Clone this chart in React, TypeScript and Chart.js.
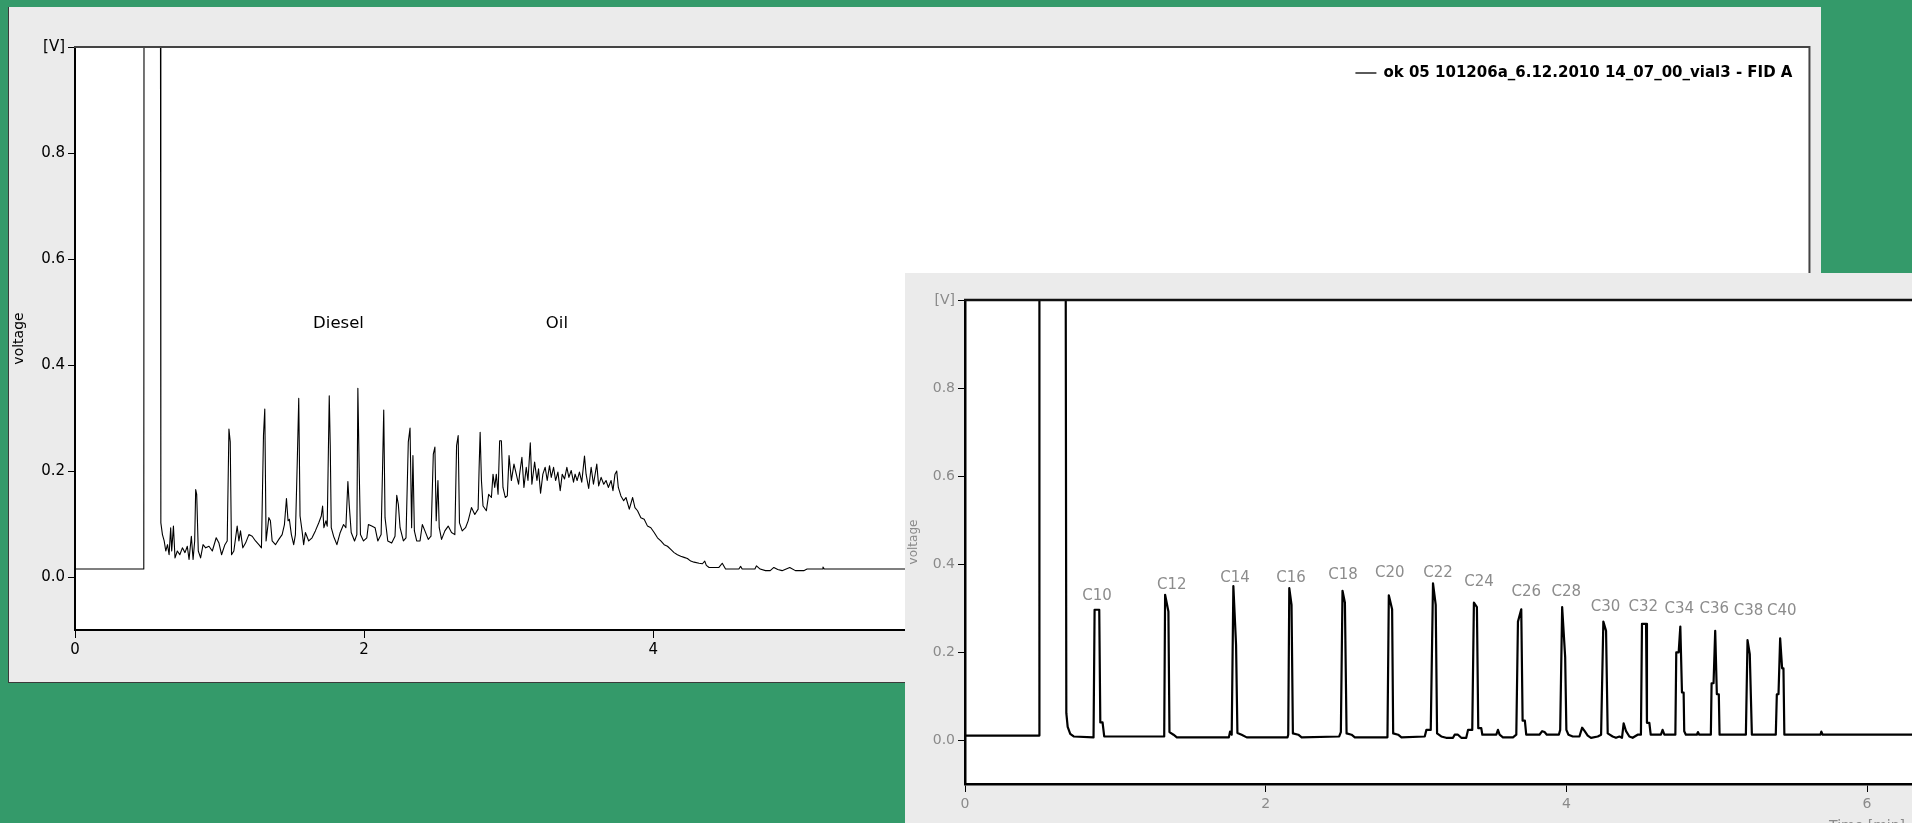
import React, { useEffect, useRef } from 'react';
import { Chart, registerables } from 'chart.js';

Chart.register(...registerables);

const FONT = '"DejaVu Sans", "Liberation Sans", sans-serif';

// ---------- Panel 1: sample chromatogram (Diesel + Oil) ----------
const sampleTime: number[] = [
  0, 0.476, 0.478, 0.59, 0.594, 0.605, 0.617, 0.628, 0.64, 0.651, 0.662, 0.669, 0.681, 0.692, 0.708,
  0.725, 0.743, 0.761, 0.777, 0.789, 0.805, 0.817, 0.828, 0.835, 0.842, 0.853, 0.869, 0.886, 0.904,
  0.927, 0.95, 0.977, 0.996, 1.014, 1.037, 1.053, 1.065, 1.074, 1.083, 1.099, 1.122, 1.134, 1.145,
  1.161, 1.18, 1.203, 1.226, 1.249, 1.272, 1.29, 1.304, 1.313, 1.322, 1.341, 1.352, 1.364, 1.387,
  1.41, 1.433, 1.449, 1.463, 1.474, 1.483, 1.497, 1.513, 1.525, 1.538, 1.548, 1.557, 1.571, 1.582,
  1.594, 1.617, 1.64, 1.663, 1.686, 1.704, 1.713, 1.722, 1.736, 1.745, 1.759, 1.766, 1.773, 1.789,
  1.812, 1.835, 1.858, 1.874, 1.888, 1.897, 1.911, 1.934, 1.95, 1.957, 1.966, 1.975, 1.996, 2.019,
  2.03, 2.053, 2.076, 2.095, 2.118, 2.129, 2.136, 2.145, 2.164, 2.191, 2.214, 2.226, 2.237, 2.249,
  2.272, 2.29, 2.306, 2.318, 2.329, 2.338, 2.348, 2.364, 2.387, 2.403, 2.421, 2.444, 2.463, 2.479,
  2.49, 2.499, 2.511, 2.52, 2.536, 2.559, 2.582, 2.605, 2.628, 2.64, 2.651, 2.66, 2.679, 2.702,
  2.72, 2.743, 2.766, 2.789, 2.796, 2.803, 2.812, 2.823, 2.846, 2.862, 2.881, 2.892, 2.904, 2.915,
  2.927, 2.938, 2.95, 2.961, 2.977, 2.991, 3.003, 3.019, 3.037, 3.053, 3.069, 3.076, 3.092, 3.106,
  3.122, 3.134, 3.15, 3.161, 3.18, 3.196, 3.207, 3.221, 3.237, 3.253, 3.267, 3.283, 3.295, 3.311,
  3.325, 3.341, 3.357, 3.371, 3.387, 3.403, 3.417, 3.433, 3.449, 3.46, 3.474, 3.49, 3.506, 3.525,
  3.536, 3.554, 3.571, 3.587, 3.61, 3.623, 3.64, 3.658, 3.674, 3.69, 3.709, 3.722, 3.736, 3.748,
  3.759, 3.777, 3.796, 3.812, 3.835, 3.858, 3.874, 3.892, 3.915, 3.938, 3.961, 3.984, 4.007, 4.03,
  4.053, 4.076, 4.099, 4.122, 4.145, 4.168, 4.191, 4.214, 4.237, 4.26, 4.283, 4.318, 4.341, 4.357,
  4.368, 4.387, 4.455, 4.478, 4.501, 4.593, 4.605, 4.616, 4.704, 4.715, 4.74, 4.777, 4.81, 4.835,
  4.862, 4.892, 4.945, 4.984, 5.042, 5.065, 5.172, 5.175, 5.184, 12,
];
const sampleSignal: number[] = [
  0.015, 0.015, 1.5, 1.5, 0.102, 0.08, 0.068, 0.049, 0.061, 0.042, 0.093, 0.049, 0.096, 0.036, 0.049,
  0.042, 0.055, 0.046, 0.058, 0.033, 0.077, 0.033, 0.068, 0.165, 0.156, 0.049, 0.036, 0.061, 0.055,
  0.058, 0.049, 0.074, 0.064, 0.042, 0.061, 0.068, 0.279, 0.255, 0.042, 0.049, 0.096, 0.068, 0.087,
  0.055, 0.064, 0.08, 0.077, 0.068, 0.061, 0.055, 0.267, 0.317, 0.068, 0.112, 0.106, 0.068, 0.061,
  0.071, 0.08, 0.099, 0.148, 0.106, 0.109, 0.08, 0.061, 0.08, 0.22, 0.337, 0.115, 0.087, 0.061,
  0.084, 0.068, 0.074, 0.087, 0.102, 0.115, 0.134, 0.093, 0.106, 0.096, 0.342, 0.248, 0.093, 0.077,
  0.061, 0.084, 0.099, 0.093, 0.18, 0.137, 0.084, 0.068, 0.08, 0.356, 0.207, 0.08, 0.068, 0.074,
  0.099, 0.096, 0.093, 0.068, 0.08, 0.22, 0.315, 0.112, 0.068, 0.064, 0.077, 0.154, 0.137, 0.093,
  0.068, 0.074, 0.255, 0.281, 0.093, 0.229, 0.087, 0.068, 0.068, 0.099, 0.087, 0.071, 0.077, 0.232,
  0.245, 0.106, 0.182, 0.093, 0.071, 0.087, 0.096, 0.084, 0.08, 0.248, 0.267, 0.102, 0.087, 0.093,
  0.106, 0.131, 0.118, 0.128, 0.207, 0.273, 0.182, 0.134, 0.125, 0.156, 0.15, 0.194, 0.169, 0.194,
  0.156, 0.257, 0.257, 0.169, 0.15, 0.153, 0.229, 0.182, 0.213, 0.194, 0.175, 0.194, 0.226, 0.169,
  0.207, 0.182, 0.253, 0.175, 0.217, 0.182, 0.204, 0.158, 0.194, 0.207, 0.182, 0.21, 0.188, 0.207,
  0.182, 0.198, 0.163, 0.194, 0.185, 0.207, 0.188, 0.201, 0.179, 0.194, 0.182, 0.198, 0.179, 0.228,
  0.194, 0.167, 0.207, 0.175, 0.213, 0.172, 0.188, 0.175, 0.182, 0.169, 0.182, 0.163, 0.194, 0.2,
  0.169, 0.153, 0.144, 0.15, 0.128, 0.15, 0.131, 0.125, 0.112, 0.109, 0.096, 0.093, 0.084, 0.074,
  0.068, 0.061, 0.058, 0.052, 0.046, 0.042, 0.039, 0.037, 0.035, 0.03, 0.028, 0.026, 0.025, 0.03,
  0.022, 0.018, 0.018, 0.026, 0.015, 0.015, 0.02, 0.015, 0.015, 0.021, 0.015, 0.012, 0.012, 0.018,
  0.014, 0.012, 0.018, 0.012, 0.012, 0.015, 0.015, 0.019, 0.015, 0.015,
];
const fractionNames: string[] = ['Diesel', 'Oil'];
const fractionLabelTime: number[] = [1.823, 3.334];
const fractionLabelSignal: number[] = [0.477, 0.477];
const legendLabel = 'ok 05 101206a_6.12.2010 14_07_00_vial3 - FID A';

// ---------- Panel 2: n-alkane standard C10–C40 ----------
const standardTime: number[] = [
  0, 0.493, 0.495, 0.668, 0.674, 0.683, 0.7, 0.723, 0.855, 0.862, 0.893, 0.9, 0.915, 0.926,
  1.325, 1.331, 1.353, 1.36, 1.387, 1.409, 1.755, 1.763, 1.774, 1.785, 1.803, 1.812, 1.84, 1.874,
  2.145, 2.15, 2.157, 2.172, 2.181, 2.217, 2.239, 2.489, 2.5, 2.511, 2.527, 2.538, 2.571, 2.593,
  2.81, 2.819, 2.841, 2.848, 2.881, 2.903, 3.058, 3.069, 3.098, 3.113, 3.131, 3.14, 3.168, 3.2,
  3.246, 3.257, 3.279, 3.301, 3.334, 3.346, 3.374, 3.385, 3.405, 3.414, 3.434, 3.441, 3.534, 3.545,
  3.556, 3.578, 3.645, 3.667, 3.678, 3.7, 3.709, 3.724, 3.733, 3.821, 3.839, 3.855, 3.87, 3.95,
  3.959, 3.972, 3.992, 4.0, 4.014, 4.043, 4.087, 4.105, 4.122, 4.142, 4.164, 4.209, 4.231, 4.246,
  4.264, 4.275, 4.308, 4.33, 4.353, 4.37, 4.381, 4.397, 4.419, 4.441, 4.474, 4.496, 4.503, 4.53,
  4.536, 4.552, 4.561, 4.629, 4.64, 4.652, 4.725, 4.731, 4.747, 4.758, 4.769, 4.78, 4.784, 4.795,
  4.868, 4.875, 4.884, 4.961, 4.966, 4.979, 4.99, 5.001, 5.014, 5.019, 5.194, 5.205, 5.22, 5.234,
  5.393, 5.4, 5.411, 5.422, 5.435, 5.444, 5.45, 5.69, 5.696, 5.705, 12,
];
const standardSignal: number[] = [
  0.01, 0.01, 1.5, 1.5, 0.061, 0.03, 0.014, 0.008, 0.006, 0.296, 0.296, 0.04, 0.04, 0.008,
  0.008, 0.33, 0.292, 0.018, 0.012, 0.006, 0.006, 0.019, 0.012, 0.35, 0.216, 0.016, 0.012, 0.006,
  0.006, 0.012, 0.345, 0.307, 0.015, 0.012, 0.006, 0.008, 0.018, 0.339, 0.312, 0.015, 0.012, 0.006,
  0.006, 0.329, 0.297, 0.015, 0.012, 0.006, 0.008, 0.023, 0.023, 0.356, 0.307, 0.015, 0.008, 0.005,
  0.005, 0.012, 0.012, 0.005, 0.005, 0.023, 0.023, 0.312, 0.302, 0.027, 0.027, 0.012, 0.012, 0.023,
  0.012, 0.006, 0.006, 0.012, 0.269, 0.297, 0.044, 0.044, 0.012, 0.012, 0.02, 0.018, 0.012, 0.012,
  0.023, 0.302, 0.189, 0.023, 0.012, 0.008, 0.008, 0.028, 0.02, 0.01, 0.005, 0.008, 0.012, 0.269,
  0.248, 0.015, 0.008, 0.005, 0.008, 0.005, 0.038, 0.02, 0.008, 0.005, 0.012, 0.012, 0.264, 0.264,
  0.039, 0.039, 0.012, 0.012, 0.023, 0.012, 0.012, 0.199, 0.199, 0.258, 0.108, 0.108, 0.02, 0.012,
  0.012, 0.018, 0.012, 0.012, 0.129, 0.129, 0.248, 0.104, 0.104, 0.012, 0.012, 0.227, 0.195, 0.012,
  0.012, 0.104, 0.104, 0.231, 0.163, 0.163, 0.012, 0.012, 0.019, 0.012, 0.012,
];
const alkaneNames: string[] = [
  'C10', 'C12', 'C14', 'C16', 'C18', 'C20', 'C22', 'C24', 'C26', 'C28', 'C30', 'C32', 'C34', 'C36', 'C38', 'C40',
];
const alkaneLabelTime: number[] = [
  0.878, 1.375, 1.796, 2.168, 2.515, 2.825, 3.146, 3.419, 3.733, 3.999, 4.26, 4.512, 4.751, 4.984, 5.212, 5.433,
];
const alkaneLabelSignal: number[] = [
  0.326, 0.352, 0.367, 0.367, 0.375, 0.379, 0.379, 0.358, 0.337, 0.335, 0.303, 0.303, 0.298, 0.298, 0.294, 0.294,
];

// ---------- shared axes ----------
const timeTicks: number[] = [0, 2, 4, 6, 8, 10, 12];
const voltTicks: number[] = [0, 0.2, 0.4, 0.6, 0.8, 1.0];

type PanelOpts = {
  times: number[];
  signal: number[];
  lineWidth: number;
  padTop: number;
  padRight: number;
  yWidth: number;
  xHeight: number;
  tickSize: number;
  tickColor: string;
  yTitleSize: number;
  yTitlePad: number;
  showXTitle: boolean;
  xTitlePad: { top: number; bottom: number };
  titleColor: string;
  yTickPad: number;
  xTickPad: number;
  frameColor: string;
  frameWidth: number;
  axisWidth: number;
  extraPlugins: any[];
};

function frameAndBackground(color: string, width: number) {
  return {
    id: 'frameAndBackground',
    beforeDraw(chart: any) {
      const { ctx, chartArea: a } = chart;
      ctx.save();
      ctx.fillStyle = '#ffffff';
      ctx.fillRect(a.left, a.top, a.right - a.left, a.bottom - a.top);
      ctx.restore();
    },
    afterDraw(chart: any) {
      const { ctx, chartArea: a } = chart;
      ctx.save();
      ctx.strokeStyle = color;
      ctx.lineWidth = width;
      ctx.beginPath();
      ctx.moveTo(a.left - 1, a.top);
      ctx.lineTo(a.right, a.top);
      ctx.lineTo(a.right, a.bottom);
      ctx.stroke();
      ctx.restore();
    },
  };
}

function textLabels(id: string, names: string[], times: number[], sig: number[], font: string, color: string) {
  return {
    id,
    afterDatasetsDraw(chart: any) {
      const { ctx, scales } = chart;
      ctx.save();
      ctx.font = font;
      ctx.fillStyle = color;
      ctx.textAlign = 'center';
      ctx.textBaseline = 'middle';
      names.forEach((n, i) => {
        ctx.fillText(n, scales.x.getPixelForValue(times[i]), scales.y.getPixelForValue(sig[i]));
      });
      ctx.restore();
    },
  };
}

const legendPlugin = {
  id: 'insideLegend',
  afterDraw(chart: any) {
    const { ctx, chartArea: a } = chart;
    ctx.save();
    ctx.font = `bold 15px ${FONT}`;
    ctx.textAlign = 'right';
    ctx.textBaseline = 'middle';
    const right = a.right - 17;
    const y = a.top + 26;
    const w = ctx.measureText(legendLabel).width;
    ctx.fillStyle = '#000';
    ctx.fillText(legendLabel, right, y);
    ctx.strokeStyle = '#000';
    ctx.lineWidth = 1.3;
    ctx.beginPath();
    ctx.moveTo(right - w - 28, y);
    ctx.lineTo(right - w - 7, y);
    ctx.stroke();
    ctx.restore();
  },
};

function buildConfig(o: PanelOpts): any {
  return {
    type: 'line',
    data: {
      datasets: [
        {
          label: legendLabel,
          data: o.times.map((t, i) => ({ x: t, y: o.signal[i] })),
          borderColor: '#000',
          borderWidth: o.lineWidth,
          pointRadius: 0,
          tension: 0,
          fill: false,
          borderJoinStyle: 'round',
        },
      ],
    },
    options: {
      responsive: false,
      animation: false,
      events: [],
      devicePixelRatio: 1,
      layout: { padding: { top: o.padTop, right: o.padRight, left: 0, bottom: 0 } },
      plugins: { legend: { display: false }, tooltip: { enabled: false }, title: { display: false } },
      scales: {
        x: {
          type: 'linear',
          min: 0,
          max: 12,
          afterBuildTicks: (s: any) => {
            s.ticks = timeTicks.map((v) => ({ value: v }));
          },
          afterFit: (s: any) => {
            s.height = o.xHeight;
          },
          ticks: {
            autoSkip: false,
            maxRotation: 0,
            padding: o.xTickPad,
            color: o.tickColor,
            font: { family: FONT, size: o.tickSize },
            callback: (v: any) => String(v),
          },
          grid: { drawOnChartArea: false, drawTicks: true, tickLength: 8, color: '#000', tickWidth: 1 },
          border: { display: true, color: '#000', width: o.axisWidth },
          title: {
            display: o.showXTitle,
            text: 'Time [min]',
            color: o.titleColor,
            font: { family: FONT, size: 14 },
            padding: o.xTitlePad,
          },
        },
        y: {
          type: 'linear',
          min: -0.1,
          max: 1.0,
          afterBuildTicks: (s: any) => {
            s.ticks = voltTicks.map((v) => ({ value: v }));
          },
          afterFit: (s: any) => {
            s.width = o.yWidth;
          },
          ticks: {
            autoSkip: false,
            padding: o.yTickPad,
            color: o.tickColor,
            font: { family: FONT, size: o.tickSize },
            callback: (v: any) => (Math.abs(v - 1) < 1e-9 ? '[V]' : Number(v).toFixed(1)),
          },
          grid: { drawOnChartArea: false, drawTicks: true, tickLength: 7, color: '#000', tickWidth: 1 },
          border: { display: true, color: '#000', width: o.axisWidth },
          title: {
            display: true,
            text: 'voltage',
            color: o.titleColor,
            font: { family: FONT, size: o.yTitleSize },
            padding: { top: o.yTitlePad, bottom: 0 },
          },
        },
      },
    },
    plugins: [frameAndBackground(o.frameColor, o.frameWidth), ...o.extraPlugins],
  };
}

function ChartPanel(props: {
  boxStyle: React.CSSProperties;
  canvasW: number;
  canvasH: number;
  canvasStyle?: React.CSSProperties;
  opts: PanelOpts;
}) {
  const ref = useRef<HTMLCanvasElement | null>(null);
  useEffect(() => {
    if (!ref.current) return;
    const chart = new Chart(ref.current, buildConfig(props.opts));
    return () => chart.destroy();
  }, []);
  return (
    <div style={props.boxStyle}>
      <canvas
        ref={ref}
        width={props.canvasW}
        height={props.canvasH}
        style={{ display: 'block', width: props.canvasW, height: props.canvasH, ...(props.canvasStyle || {}) }}
      />
    </div>
  );
}

const panel1Opts: PanelOpts = {
  times: sampleTime,
  signal: sampleSignal,
  lineWidth: 1.1,
  padTop: 40,
  padRight: 10,
  yWidth: 67,
  xHeight: 53,
  tickSize: 15,
  tickColor: '#000',
  yTitleSize: 14,
  yTitlePad: 3,
  showXTitle: false,
  xTitlePad: { top: 4, bottom: 4 },
  titleColor: '#000',
  yTickPad: 3,
  xTickPad: 3,
  frameColor: '#444',
  frameWidth: 2,
  axisWidth: 2,
  extraPlugins: [
    textLabels('fractions', fractionNames, fractionLabelTime, fractionLabelSignal, `16.5px ${FONT}`, '#000'),
    legendPlugin,
  ],
};

const panel2Opts: PanelOpts = {
  times: standardTime,
  signal: standardSignal,
  lineWidth: 2.2,
  padTop: 27,
  padRight: 10,
  yWidth: 60,
  xHeight: 64,
  tickSize: 14,
  tickColor: '#8a8a8a',
  yTitleSize: 12,
  yTitlePad: 2,
  showXTitle: true,
  xTitlePad: { top: 4, bottom: 13 },
  titleColor: '#8a8a8a',
  yTickPad: 3,
  xTickPad: 4,
  frameColor: '#111',
  frameWidth: 2.5,
  axisWidth: 2.5,
  extraPlugins: [
    textLabels('alkanes', alkaneNames, alkaneLabelTime, alkaneLabelSignal, `15px ${FONT}`, '#8c8c8c'),
  ],
};

export default function App() {
  return (
    <div
      style={{
        position: 'fixed',
        left: 0,
        top: 0,
        width: 1912,
        height: 823,
        overflow: 'hidden',
        background: '#349a6a',
      }}
    >
      <ChartPanel
        boxStyle={{
          position: 'absolute',
          left: 8,
          top: 7,
          width: 1813,
          height: 676,
          overflow: 'hidden',
          background: '#ebebeb',
          boxShadow: 'inset 1px 0 0 #3a3a3a, inset 0 -1px 0 #3a3a3a',
        }}
        canvasW={1814}
        canvasH={676}
        opts={panel1Opts}
      />
      <ChartPanel
        boxStyle={{
          position: 'absolute',
          left: 905,
          top: 273,
          width: 1007,
          height: 550,
          overflow: 'hidden',
          background: '#ebebeb',
        }}
        canvasW={1877}
        canvasH={575}
        canvasStyle={{ filter: 'blur(0.5px)' }}
        opts={panel2Opts}
      />
    </div>
  );
}
